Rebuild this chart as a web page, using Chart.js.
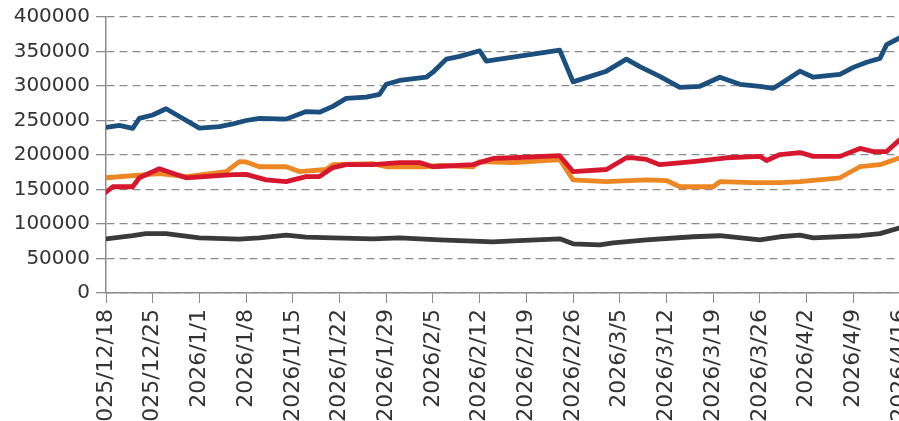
<!DOCTYPE html>
<html>
<head>
<meta charset="utf-8">
<script src="https://cdn.jsdelivr.net/npm/chart.js@4"></script>
<style>
html,body{margin:0;padding:0;overflow:hidden;background:#fff;width:899px;height:421px}
#wrap{position:absolute;left:0;top:0;width:920px;height:480px}
</style>
</head>
<body>
<div id="wrap"><canvas id="c" width="920" height="480"></canvas></div>
<script>
// x positions are day offsets from 2025/12/18
const tickLabels = ['2025/12/18','2025/12/25','2026/1/1','2026/1/8','2026/1/15','2026/1/22','2026/1/29','2026/2/5','2026/2/12','2026/2/19','2026/2/26','2026/3/5','2026/3/12','2026/3/19','2026/3/26','2026/4/2','2026/4/9','2026/4/16'];

const blueDays   = [0,2,4,5,7,9,14,17,19,21,23,27,30,32,34,36,39,41,42,44,48,49,51,53,56,57,61,68,70,75,78,80,83,86,89,92,95,98,100,101,104,106,110,112,114,116,117,119];
const blueValues = [240000,243000,238500,253000,258000,267000,239000,241000,245000,250000,253000,252000,263000,262000,270500,282000,284000,288000,302500,308000,312700,320000,339000,343000,351000,336000,342000,352000,306000,321500,339000,328000,314000,298000,299600,312700,302500,299600,296700,302500,321500,312700,317000,327000,334500,340000,360000,370000];

const redDays   = [0,1,4,5,8,12,19,21,24,27,30,32,34,36,40,44,47,49,55,58,61,68,70,75,78,79,81,83,88,93,98,99,101,104,106,110,113,115,117,119];
const redValues = [146000,154000,154000,167000,180000,167000,171600,172000,164000,161500,168700,168700,181800,186000,186000,189000,189000,183000,186000,195000,196000,199000,176000,179000,196000,196000,193500,186000,190500,196000,198000,192000,200700,203600,198000,198000,209500,205000,205000,222500];

const orangeDays   = [0,8,12,18,20,21,23,27,29,33,34,40,42,48,50,55,56,61,68,70,75,81,84,86,91,92,97,101,104,110,113,116,119];
const orangeValues = [167000,173000,168700,176000,190500,190000,183000,183000,176000,179000,186000,187600,183000,183000,185000,183000,190500,189000,193500,164000,161500,164000,163000,154000,154000,161500,160000,160000,161500,167000,183000,186000,196000];

const grayDays   = [0,4,6,9,14,20,23,27,30,34,40,44,50,58,61,68,70,74,76,81,88,92,98,101,104,106,113,116,119];
const grayValues = [78500,83000,86000,86000,80000,78000,80000,84000,81000,80000,78500,80000,77000,74000,75600,78500,71300,69800,72700,77000,81500,83000,77000,81500,84000,80000,83000,86000,94500];

const yTicks = {min:0, max:400000, step:50000};

function pts(days, vals){ return days.map((d,i)=>({x:d, y:vals[i]})); }

new Chart(document.getElementById('c'), {
  type:'line',
  data:{
    datasets:[
      {label:'Series 1', data:pts(blueDays,blueValues), borderColor:'#1b4f7d'},
      {label:'Series 2', data:pts(redDays,redValues), borderColor:'#d7172d'},
      {label:'Series 3', data:pts(orangeDays,orangeValues), borderColor:'#ec8723'},
      {label:'Series 4', data:pts(grayDays,grayValues), borderColor:'#3a3a3a'}
    ]
  },
  options:{
    responsive:false,
    animation:false,
    layout:{padding:{left:0,right:20,top:17,bottom:0}},
    plugins:{legend:{display:false}, tooltip:{enabled:false}},
    elements:{
      point:{radius:0},
      line:{borderWidth:4.8, tension:0, borderJoinStyle:'round', borderCapStyle:'round', fill:false}
    },
    scales:{
      x:{
        type:'linear', min:0, max:119,
        ticks:{stepSize:7, autoSkip:false, maxRotation:90, minRotation:90, padding:6, color:'#333',
          font:{family:'DejaVu Sans', size:22},
          callback:(v)=> tickLabels[Math.round(v/7)]},
        grid:{drawOnChartArea:false, tickLength:10, color:'#8c8c8c', lineWidth:1},
        border:{color:'#8c8c8c', width:1.5},
        afterFit:(s)=>{ s.height=187; s.paddingLeft=0; s.paddingRight=0; }
      },
      y:{
        min:yTicks.min, max:yTicks.max,
        ticks:{stepSize:yTicks.step, padding:6, color:'#333', font:{family:'DejaVu Sans', size:20},
          callback:(v)=> String(v)},
        grid:{color:'#8c8c8c', tickLength:10, lineWidth:1.3},
        border:{color:'#8c8c8c', width:1.5, dash:[8,5]},
        afterFit:(s)=>{ s.width=106; s.paddingTop=0; s.paddingBottom=0; }
      }
    }
  }
});
</script>
</body>
</html>
